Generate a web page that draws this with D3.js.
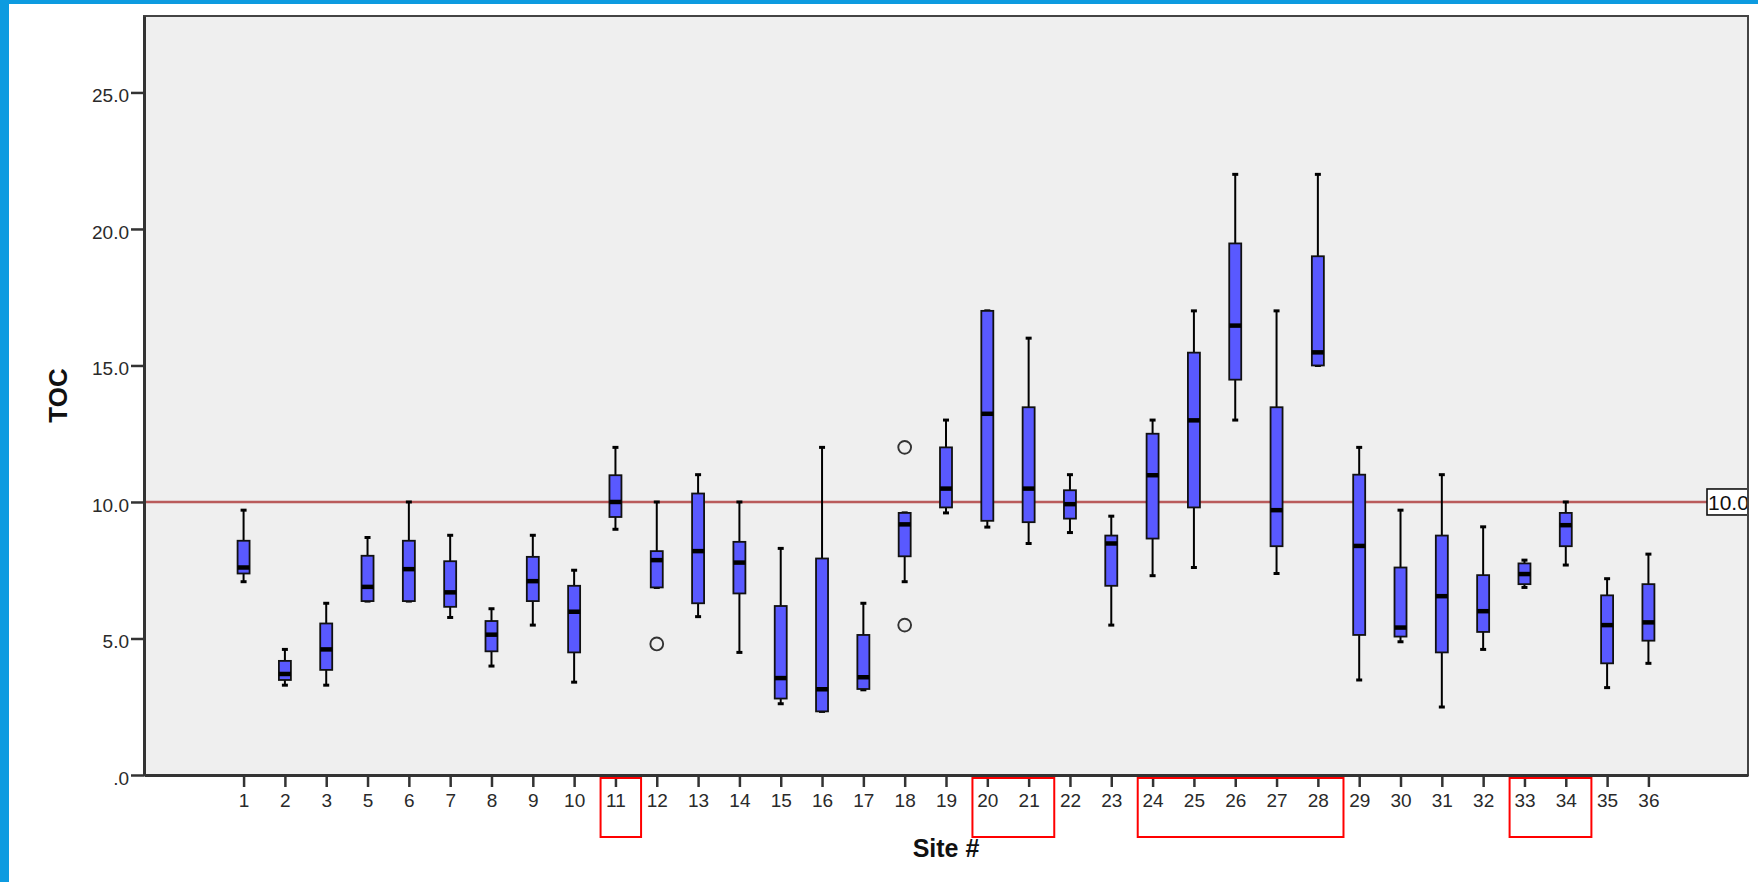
<!DOCTYPE html>
<html>
<head>
<meta charset="utf-8">
<script src="https://cdn.jsdelivr.net/npm/d3@7/dist/d3.min.js"></script>
<style>
  html, body { margin: 0; padding: 0; background: #ffffff; }
  svg { display: block; }
  text { font-family: "Liberation Sans", Arial, sans-serif; }
</style>
</head>
<body>
<svg id="chart" width="1758" height="882"></svg>
<script>
// Sampling sites on the x axis (site 4 has no data)
const sites = ["1","2","3","5","6","7","8","9","10","11","12","13","14","15","16","17","18",
  "19","20","21","22","23","24","25","26","27","28","29","30","31","32","33","34","35","36"];

// Box plot summaries of TOC per site
const whiskerLow  = [7.08, 3.29, 3.29, 6.37, 6.37, 5.77, 3.99, 5.49, 3.40, 9.00, 6.87, 5.80, 4.49, 2.61, 2.33, 3.12, 7.08,
  9.60, 9.08, 8.48, 8.88, 5.49, 7.30, 7.60, 13.0, 7.38, 15.0, 3.48, 4.88, 2.49, 4.60, 6.87, 7.69, 3.20, 4.09];
const quartile1   = [7.38, 3.48, 3.85, 6.37, 6.37, 6.16, 4.53, 6.37, 4.49, 9.45, 6.87, 6.29, 6.65, 2.80, 2.33, 3.15, 8.01,
  9.80, 9.31, 9.26, 9.39, 6.93, 8.66, 9.80, 14.48, 8.38, 15.0, 5.13, 5.07, 4.49, 5.24, 6.99, 8.38, 4.09, 4.92];
const medians     = [7.60, 3.70, 4.60, 6.89, 7.54, 6.69, 5.14, 7.10, 5.98, 10.0, 7.87, 8.20, 7.78, 3.55, 3.14, 3.58, 9.18,
  10.49, 13.23, 10.49, 9.92, 8.48, 10.98, 12.99, 16.46, 9.70, 15.48, 8.39, 5.40, 6.55, 6.00, 7.36, 9.15, 5.49, 5.59];
const quartile3   = [8.58, 4.18, 5.55, 8.03, 8.58, 7.83, 5.64, 7.99, 6.93, 10.98, 8.20, 10.31, 8.54, 6.19, 7.93, 5.13, 9.60,
  12.0, 17.0, 13.47, 10.43, 8.77, 12.5, 15.47, 19.47, 13.47, 19.0, 11.0, 7.60, 8.77, 7.32, 7.75, 9.60, 6.58, 6.99];
const whiskerHigh = [9.70, 4.60, 6.29, 8.70, 10.0, 8.78, 6.09, 8.78, 7.50, 12.0, 10.0, 11.0, 10.0, 8.30, 12.0, 6.29, 9.60,
  13.0, 17.0, 16.0, 11.0, 9.48, 13.0, 17.0, 22.0, 17.0, 22.0, 12.0, 9.70, 11.0, 9.09, 7.87, 10.0, 7.19, 8.09];

// Outlying observations drawn as open circles
const outlierSites  = ["12", "18", "18"];
const outlierValues = [4.80, 12.0, 5.49];

// Reference level and its label
const referenceValue = 10.0;
const referenceLabel = "10.0";

// Groups of sites outlined in red below the axis
const groupStart = ["11", "20", "24", "33"];
const groupEnd   = ["11", "21", "28", "34"];

// Axis ticks
const yTickValues = [0, 5, 10, 15, 20, 25];
const yTickLabels = [".0", "5.0", "10.0", "15.0", "20.0", "25.0"];
const yDomainMax = 27.8;

const xTitle = "Site #";
const yTitle = "TOC";

const svg = d3.select("#chart");
const W = 1758, H = 882;
const plot = { left: 144, right: 1748, top: 16, bottom: 775 };

// Page frame: blue bands at left and top
svg.append("rect").attr("x", 0).attr("y", 0).attr("width", W).attr("height", H).attr("fill", "#ffffff");
svg.append("rect").attr("x", 0).attr("y", 0).attr("width", 9).attr("height", H).attr("fill", "#0d9be0");
svg.append("rect").attr("x", 0).attr("y", 0).attr("width", W).attr("height", 4).attr("fill", "#0d9be0");

const x = d3.scalePoint().domain(sites).range([plot.left, plot.right]).padding(2.41);
const y = d3.scaleLinear().domain([0, yDomainMax]).range([plot.bottom, plot.top]);

// Plot background
svg.append("rect")
  .attr("x", plot.left).attr("y", plot.top)
  .attr("width", plot.right - plot.left).attr("height", plot.bottom - plot.top)
  .attr("fill", "#efefef");

svg.append("clipPath").attr("id", "plotClip")
  .append("rect")
  .attr("x", plot.left).attr("y", plot.top)
  .attr("width", plot.right - plot.left).attr("height", plot.bottom - plot.top);

const inner = svg.append("g").attr("clip-path", "url(#plotClip)");

// Reference line
inner.append("line")
  .attr("x1", plot.left).attr("x2", plot.right)
  .attr("y1", y(referenceValue)).attr("y2", y(referenceValue))
  .attr("stroke", "#b34a4a").attr("stroke-opacity", 0.9).attr("stroke-width", 2.6);

// Boxes
const boxes = sites.map((s, i) => ({
  site: s, lo: whiskerLow[i], q1: quartile1[i], med: medians[i], q3: quartile3[i], hi: whiskerHigh[i]
}));
const halfW = 6, capHalf = 3;

const g = inner.selectAll("g.box").data(boxes).join("g").attr("class", "box");

g.append("line")
  .attr("x1", d => x(d.site)).attr("x2", d => x(d.site))
  .attr("y1", d => y(d.hi)).attr("y2", d => y(d.q3))
  .attr("stroke", "#000").attr("stroke-width", 2);
g.append("line")
  .attr("x1", d => x(d.site)).attr("x2", d => x(d.site))
  .attr("y1", d => y(d.q1)).attr("y2", d => y(d.lo))
  .attr("stroke", "#000").attr("stroke-width", 2);
g.append("line")
  .attr("x1", d => x(d.site) - capHalf).attr("x2", d => x(d.site) + capHalf)
  .attr("y1", d => y(d.hi)).attr("y2", d => y(d.hi))
  .attr("stroke", "#000").attr("stroke-width", 3);
g.append("line")
  .attr("x1", d => x(d.site) - capHalf).attr("x2", d => x(d.site) + capHalf)
  .attr("y1", d => y(d.lo)).attr("y2", d => y(d.lo))
  .attr("stroke", "#000").attr("stroke-width", 3);
g.append("rect")
  .attr("x", d => x(d.site) - halfW).attr("width", halfW * 2)
  .attr("y", d => y(d.q3)).attr("height", d => y(d.q1) - y(d.q3))
  .attr("fill", "#5959ff").attr("stroke", "#111").attr("stroke-width", 1.8);
g.append("line")
  .attr("x1", d => x(d.site) - halfW).attr("x2", d => x(d.site) + halfW)
  .attr("y1", d => y(d.med)).attr("y2", d => y(d.med))
  .attr("stroke", "#000").attr("stroke-width", 4.5);

// Outliers
inner.selectAll("circle.outlier")
  .data(outlierSites.map((s, i) => ({ site: s, v: outlierValues[i] })))
  .join("circle").attr("class", "outlier")
  .attr("cx", d => x(d.site)).attr("cy", d => y(d.v)).attr("r", 6.4)
  .attr("fill", "none").attr("stroke", "#333").attr("stroke-width", 1.9);

// Reference line label at the right edge
const labelY = y(referenceValue);
inner.append("rect")
  .attr("x", 1707).attr("y", labelY - 13)
  .attr("width", 50).attr("height", 26)
  .attr("fill", "#ffffff").attr("stroke", "#111").attr("stroke-width", 1.6);
inner.append("text")
  .attr("x", 1708).attr("y", labelY + 8)
  .attr("font-size", 21).attr("fill", "#111")
  .text(referenceLabel);

// Plot frame
svg.append("rect")
  .attr("x", plot.left).attr("y", plot.top)
  .attr("width", plot.right - plot.left).attr("height", plot.bottom - plot.top)
  .attr("fill", "none").attr("stroke", "#444").attr("stroke-width", 2);

// Y axis
const yAxis = d3.axisLeft(y).tickValues(yTickValues)
  .tickFormat((d, i) => yTickLabels[i]).tickSize(13).tickSizeOuter(0).tickPadding(2);
const yg = svg.append("g").attr("transform", `translate(${plot.left},0)`).call(yAxis);
yg.select(".domain").attr("stroke", "#333").attr("stroke-width", 3);
yg.selectAll(".tick line").attr("stroke", "#333").attr("stroke-width", 2.5);
yg.selectAll(".tick text")
  .attr("font-family", "Liberation Sans, Arial, sans-serif")
  .attr("font-size", 19).attr("fill", "#2a2a2a").attr("dy", "0.5em");

// X axis
const xAxis = d3.axisBottom(x).tickSize(12).tickSizeOuter(0).tickPadding(7);
const xg = svg.append("g").attr("transform", `translate(0,${plot.bottom})`).call(xAxis);
xg.select(".domain").attr("stroke", "#333").attr("stroke-width", 3);
xg.selectAll(".tick line").attr("stroke", "#333").attr("stroke-width", 2.5);
xg.selectAll(".tick text")
  .attr("font-family", "Liberation Sans, Arial, sans-serif")
  .attr("font-size", 19).attr("fill", "#2a2a2a");

// Axis titles
svg.append("text")
  .attr("x", (plot.left + plot.right) / 2).attr("y", 857)
  .attr("text-anchor", "middle").attr("font-size", 25).attr("font-weight", "bold").attr("fill", "#111")
  .text(xTitle);
svg.append("text")
  .attr("transform", `translate(67, ${(plot.top + plot.bottom) / 2}) rotate(-90)`)
  .attr("text-anchor", "middle").attr("font-size", 26).attr("font-weight", "bold").attr("fill", "#111")
  .text(yTitle);

// Red outlines around highlighted site groups
const step = x.step();
svg.selectAll("rect.group")
  .data(groupStart.map((s, i) => ({ a: s, b: groupEnd[i] })))
  .join("rect").attr("class", "group")
  .attr("x", d => x(d.a) - 0.36 * step)
  .attr("width", d => x(d.b) - x(d.a) + 0.98 * step)
  .attr("y", 778).attr("height", 59)
  .attr("fill", "none").attr("stroke", "#ff0000").attr("stroke-width", 2);
</script>
</body>
</html>
